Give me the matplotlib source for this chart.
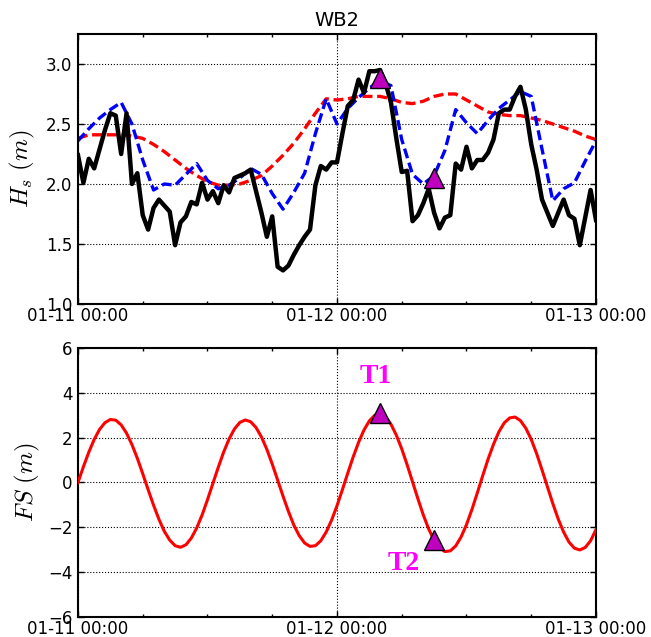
import numpy as np
import matplotlib
matplotlib.use("Agg")
import matplotlib.pyplot as plt
import matplotlib.dates as mdates

plt.rcParams['font.family'] = ['DejaVu Sans']
plt.rcParams['mathtext.fontset'] = 'cm'
plt.rcParams['axes.unicode_minus'] = True

title = "WB2"
start = np.datetime64('2015-01-11T00:00')

# Observed Hs, half-hourly samples from 01-11 00:00 to 01-13 00:00
hs_obs = [
    2.24, 2.01, 2.21, 2.13, 2.29, 2.45, 2.59, 2.57, 2.25, 2.59,
    2.00, 2.09, 1.74, 1.62, 1.80, 1.87, 1.82, 1.77, 1.49, 1.68,
    1.73, 1.85, 1.83, 2.01, 1.87, 1.94, 1.84, 1.99, 1.93, 2.05,
    2.07, 2.09, 2.12, 1.94, 1.76, 1.56, 1.73, 1.31, 1.28, 1.32,
    1.41, 1.49, 1.56, 1.62, 1.99, 2.15, 2.12, 2.18, 2.18, 2.42,
    2.65, 2.70, 2.87, 2.76, 2.94, 2.94, 2.95, 2.84, 2.68, 2.38,
    2.10, 2.11, 1.69, 1.74, 1.84, 1.96, 1.76, 1.63, 1.72, 1.74,
    2.17, 2.12, 2.31, 2.13, 2.20, 2.20, 2.26, 2.37, 2.59, 2.62,
    2.62, 2.73, 2.81, 2.62, 2.33, 2.12, 1.87, 1.76, 1.65, 1.76,
    1.87, 1.74, 1.71, 1.49, 1.72, 1.95, 1.70,
]

# Model Hs (red dashed), hourly
hs_model_a = [
    2.38, 2.41, 2.41, 2.41, 2.41, 2.40, 2.38, 2.33, 2.27, 2.20,
    2.13, 2.07, 2.02, 1.99, 1.99, 2.00, 2.03, 2.07, 2.15, 2.24,
    2.34, 2.46, 2.59, 2.71, 2.70, 2.71, 2.73, 2.73, 2.73, 2.71,
    2.68, 2.67, 2.69, 2.73, 2.75, 2.75, 2.70, 2.65, 2.60, 2.58,
    2.57, 2.57, 2.55, 2.53, 2.50, 2.47, 2.44, 2.40, 2.37,
]

# Model Hs (blue dashed), hourly
hs_model_b = [
    2.36, 2.46, 2.55, 2.62, 2.68, 2.50, 2.20, 1.95, 2.00, 1.99,
    2.08, 2.17, 2.03, 1.96, 1.99, 2.05, 2.13, 2.08, 1.92, 1.79,
    1.93, 2.09, 2.42, 2.71, 2.50, 2.63, 2.72, 2.80, 2.86, 2.82,
    2.37, 2.08, 2.00, 2.07, 2.28, 2.62, 2.51, 2.42, 2.53, 2.63,
    2.70, 2.77, 2.73, 2.29, 1.86, 1.96, 2.01, 2.19, 2.36,
]

# Free surface elevation FS, half-hourly
fs = [
    0.00, 0.70, 1.35, 1.92, 2.37, 2.67, 2.81, 2.78, 2.57, 2.20,
    1.69, 1.08, 0.39, -0.32, -1.01, -1.64, -2.18, -2.57, -2.82, -2.89,
    -2.78, -2.48, -2.03, -1.45, -0.77, -0.04, 0.68, 1.36, 1.94, 2.39,
    2.68, 2.79, 2.71, 2.45, 2.03, 1.48, 0.82, 0.11, -0.61, -1.29,
    -1.90, -2.37, -2.70, -2.85, -2.82, -2.60, -2.21, -1.68, -1.04, -0.32,
    0.42, 1.14, 1.79, 2.34, 2.75, 3.00, 3.07, 2.93, 2.60, 2.11,
    1.50, 0.79, 0.03, -0.73, -1.45, -2.08, -2.58, -2.92, -3.08, -3.05,
    -2.83, -2.43, -1.88, -1.21, -0.47, 0.30, 1.04, 1.70, 2.26, 2.66,
    2.88, 2.92, 2.76, 2.42, 1.92, 1.29, 0.56, -0.19, -0.94, -1.63,
    -2.21, -2.66, -2.93, -3.01, -2.90, -2.60, -2.10,
]

# Event markers T1, T2 (hours after start)
event_labels = ["T1", "T2"]
event_hours = [28.0, 33.0]
event_hs = [2.88, 2.05]
event_fs = [3.12, -2.56]
label_hours = [27.6, 30.2]
label_fs = [4.42, -3.90]

def times(n, step_min):
    return (start + np.arange(n) * np.timedelta64(step_min, 'm')).astype('datetime64[m]').astype(object)

t_obs = times(len(hs_obs), 30)
t_a = times(len(hs_model_a), 60)
t_b = times(len(hs_model_b), 60)
t_fs = times(len(fs), 30)
t_ev = [(start + np.timedelta64(int(h * 60), 'm')).astype(object) for h in event_hours]
t_lb = [(start + np.timedelta64(int(h * 60), 'm')).astype(object) for h in label_hours]
xmin = start.astype(object)
xmax = (start + np.timedelta64(48, 'h')).astype(object)

fig = plt.figure(figsize=(6.51, 6.37), dpi=100)
ax1 = fig.add_axes([0.1198, 0.5228, 0.7957, 0.4238])
ax2 = fig.add_axes([0.1198, 0.0314, 0.7957, 0.4223])

def style(ax):
    for s in ax.spines.values():
        s.set_linewidth(1.5)
    ax.xaxis.set_major_locator(mdates.DayLocator())
    ax.xaxis.set_minor_locator(mdates.HourLocator(byhour=[6, 12, 18]))
    ax.xaxis.set_major_formatter(mdates.DateFormatter('%m-%d %H:%M'))
    ax.tick_params(which='both', direction='in', top=True, right=True, labelsize=12, pad=4)
    ax.tick_params(axis='x', which='both', pad=2.5)
    ax.tick_params(which='major', length=4, width=1)
    ax.tick_params(which='minor', length=2.5, width=1)
    ax.grid(True, which='major', color='black', linestyle=':', linewidth=0.8)
    ax.set_xlim(xmin, xmax)

ax1.plot(t_obs, hs_obs, color='black', lw=3.2, zorder=3)
ax1.plot(t_a, hs_model_a, color='red', lw=2.4, dashes=(3.0, 1.4), zorder=2)
ax1.plot(t_b, hs_model_b, color='blue', lw=2.4, dashes=(3.0, 1.4), zorder=2)
ax1.plot(t_ev, event_hs, linestyle='none', marker='^', ms=14, mfc='#BF00BF', mec='black', mew=1, zorder=5)
style(ax1)
ax1.set_ylim(1.0, 3.25)
ax1.set_yticks([1.0, 1.5, 2.0, 2.5, 3.0])
ax1.set_ylabel(r'$H_s\ (m)$', fontsize=18)
ax1.yaxis.set_label_coords(-0.080, 0.5)
ax1.set_title(title, fontsize=14, pad=6)

ax2.plot(t_fs, fs, color='red', lw=2.2, zorder=3)
ax2.plot(t_ev, event_fs, linestyle='none', marker='^', ms=14, mfc='#BF00BF', mec='black', mew=1, zorder=5)
for lab, tx, ty in zip(event_labels, t_lb, label_fs):
    ax2.text(tx, ty, lab, color='#FF00FF', fontsize=20, fontweight='bold',
             family=['Liberation Serif', 'DejaVu Serif'], ha='center', va='baseline', zorder=6)
style(ax2)
ax2.set_ylim(-6, 6)
ax2.set_yticks([-6, -4, -2, 0, 2, 4, 6])
ax2.set_ylabel(r'$FS\ (m)$', fontsize=18)
ax2.yaxis.set_label_coords(-0.069, 0.5)

fig.savefig('out.png', dpi=100, facecolor='white')
